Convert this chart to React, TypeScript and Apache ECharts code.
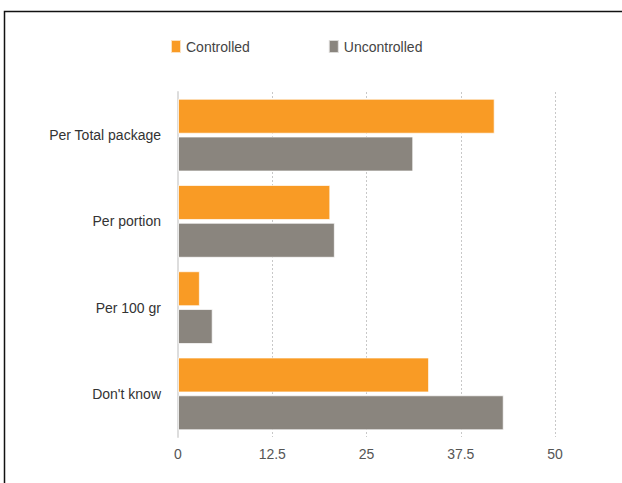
import React, { useEffect, useRef } from "react";
import * as echarts from "echarts";

const categories = ["Per Total package", "Per portion", "Per 100 gr", "Don't know"];
const controlled = [42.0, 20.2, 2.9, 33.3];
const uncontrolled = [31.2, 20.8, 4.6, 43.2];
const seriesNames = ["Controlled", "Uncontrolled"];

export default function App() {
  const ref = useRef<HTMLDivElement>(null);
  useEffect(() => {
    document.body.style.margin = "0";
    const chart = echarts.init(ref.current!, null, { renderer: "svg" });
    const font = "'Liberation Sans', Arial, Helvetica, sans-serif";
    chart.setOption({
      animation: false,
      backgroundColor: "#fff",
      textStyle: { fontFamily: font },
      graphic: [
        {
          type: "rect",
          shape: { x: 4.5, y: 11.5, width: 700, height: 600 },
          style: { fill: "none", stroke: "#111", lineWidth: 1.5 },
          z: 100,
        },
      ],
      legend: {
        top: 34,
        left: 165,
        itemWidth: 10,
        itemHeight: 13,
        itemGap: 78,
        icon: "rect",
        textStyle: { fontSize: 14, color: "#444", fontFamily: font },
        data: seriesNames,
      },
      grid: { left: 178, right: 67, top: 92, bottom: 46 },
      xAxis: {
        type: "value",
        min: 0,
        max: 50,
        interval: 12.5,
        axisLine: { show: false },
        axisTick: { show: false },
        splitLine: { show: true, lineStyle: { type: [2, 2], color: "#c8c8c8", width: 1 } },
        axisLabel: { color: "#555", fontSize: 14, margin: 10, fontFamily: font },
      },
      yAxis: {
        type: "category",
        inverse: true,
        data: categories,
        axisLine: { show: true, lineStyle: { color: "#ddd", width: 2 } },
        axisTick: { show: false },
        axisLabel: { color: "#333", fontSize: 14, margin: 17, fontFamily: font },
      },
      series: [
        {
          name: seriesNames[0],
          type: "bar",
          data: controlled,
          barWidth: 35,
          barGap: "8%",
          itemStyle: { color: "#F99B25", borderColor: "rgba(255,255,255,0.7)", borderWidth: 1 },
        },
        {
          name: seriesNames[1],
          type: "bar",
          data: uncontrolled,
          barWidth: 35,
          barGap: "8%",
          itemStyle: { color: "#8A857E", borderColor: "rgba(255,255,255,0.7)", borderWidth: 1 },
        },
      ],
    });
    return () => chart.dispose();
  }, []);
  return <div ref={ref} style={{ width: 622, height: 483 }} />;
}
